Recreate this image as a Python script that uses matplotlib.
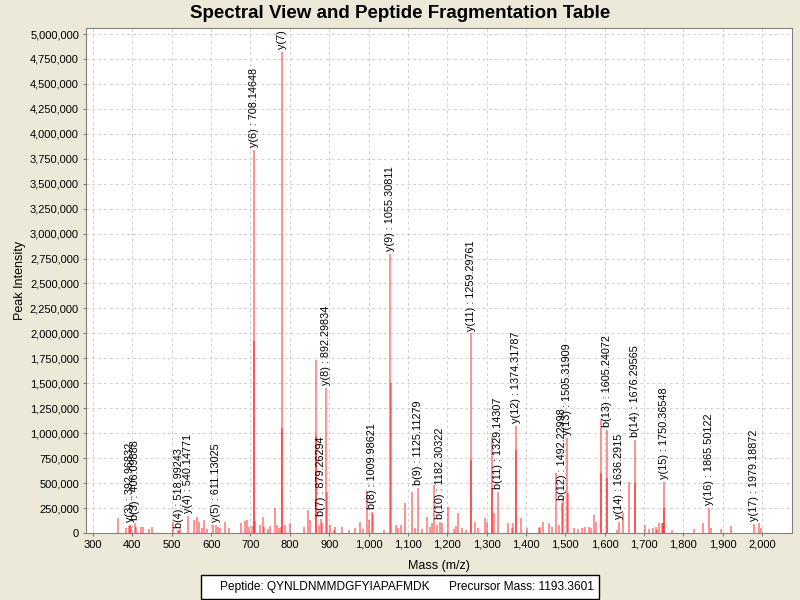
import numpy as np
import matplotlib
matplotlib.use("Agg")
import matplotlib.pyplot as plt
from matplotlib.ticker import FuncFormatter, MultipleLocator

plt.rcParams['font.family'] = ['Liberation Sans', 'DejaVu Sans']

# labelled fragment peaks (mass, intensity)
ion_names = ["y(3)", "b(3)", "b(4)", "y(4)", "y(5)", "y(6)", "y(7)", "b(7)", "y(8)",
             "b(8)", "y(9)", "b(9)", "b(10)", "y(11)", "b(11)", "y(12)", "b(12)",
             "y(13)", "b(13)", "y(14)", "b(14)", "y(15)", "y(16)", "y(17)"]
ion_mass = [392.96832, 406.09888, 518.99243, 540.14771, 611.13025, 708.14648, 779.18519,
            879.26294, 892.29834, 1009.98621, 1055.30811, 1125.11279, 1182.30322,
            1259.29761, 1329.14307, 1374.31787, 1492.22998, 1505.31909, 1605.24072,
            1636.2915, 1676.29565, 1750.36548, 1865.50122, 1979.18872]
ion_int = [80000, 100000, 20000, 170000, 80000, 3840000, 4820000, 140000, 1456000,
           210000, 2800000, 450000, 110000, 2000000, 410000, 1070000, 300000,
           950000, 1030000, 110000, 930000, 510000, 250000, 90000]

# other peaks in the spectrum
peak_mass = [363, 384, 391, 397, 408, 422, 428, 441, 449, 504, 515, 522, 557, 563, 570,
             576, 583, 590, 604, 618, 623, 635, 646, 676, 686, 691, 697, 703, 709.15,
             711, 723, 731, 735, 744, 750, 762, 767, 772, 778, 780.19, 787, 801, 835,
             847, 851, 866, 867, 873, 881, 893.3, 902, 911, 915, 932, 951, 966, 979,
             987, 996, 1000, 1012, 1038, 1056.3, 1070, 1076, 1083, 1093, 1110, 1118,
             1135, 1148, 1156, 1162, 1167, 1173, 1186, 1203, 1216, 1222, 1228, 1237,
             1248, 1260.3, 1271, 1279, 1296, 1300, 1313, 1314, 1320, 1355, 1364, 1368,
             1375.3, 1387, 1402, 1432, 1436, 1443, 1459, 1467, 1476, 1483, 1494,
             1506.3, 1521, 1533, 1542, 1550, 1559, 1566, 1573, 1578, 1590, 1591,
             1606.2, 1631, 1646, 1661, 1677.3, 1703, 1712, 1724, 1730, 1734, 1739,
             1745, 1748, 1751.4, 1772, 1828, 1849, 1871, 1896, 1921, 1993, 1997]
peak_int = [150000, 50000, 70000, 70000, 60000, 60000, 60000, 40000, 60000, 110000,
            30000, 40000, 130000, 160000, 110000, 50000, 130000, 40000, 80000, 60000,
            50000, 110000, 50000, 100000, 120000, 130000, 60000, 70000, 1920000,
            120000, 80000, 160000, 60000, 40000, 70000, 250000, 80000, 50000, 60000,
            1050000, 80000, 100000, 60000, 230000, 130000, 1730000, 970000, 80000,
            100000, 410000, 80000, 30000, 60000, 60000, 30000, 50000, 110000, 40000,
            420000, 130000, 190000, 30000, 1500000, 80000, 50000, 80000, 300000,
            410000, 50000, 40000, 160000, 60000, 100000, 480000, 80000, 100000,
            260000, 40000, 70000, 200000, 50000, 30000, 730000, 110000, 50000,
            150000, 110000, 965000, 450000, 200000, 100000, 50000, 100000, 830000,
            150000, 50000, 50000, 60000, 110000, 100000, 60000, 600000, 80000,
            350000, 400000, 50000, 40000, 50000, 60000, 60000, 50000, 180000,
            110000, 1140000, 600000, 550000, 30000, 200000, 510000, 500000, 80000,
            40000, 50000, 60000, 30000, 100000, 100000, 100000, 250000, 30000,
            40000, 100000, 50000, 40000, 70000, 100000, 50000]

peptide = "QYNLDNMMDGFYIAPAFMDK"
precursor = "1193.3601"

bg = "#ECE9D8"
fig = plt.figure(figsize=(8, 6), dpi=100, facecolor=bg)
ax = fig.add_axes([0.1075, 0.1117, 0.8825, 0.8416])
ax.set_facecolor("white")

all_mass = list(peak_mass) + list(ion_mass)
all_int = list(peak_int) + list(ion_int)
ax.vlines(all_mass, 0, all_int, colors="#ff0000", alpha=0.5, linewidth=1.2)

for name, m, h in zip(ion_names, ion_mass, ion_int):
    ax.annotate(f"{name} : {m}", xy=(m, h), xytext=(0, 2), textcoords="offset points",
                rotation=90, ha="center", va="bottom", fontsize=7.8, clip_on=True,
                annotation_clip=False)

ax.set_xlim(282, 2076)
ax.set_ylim(0, 5060000)
ax.xaxis.set_major_locator(MultipleLocator(100))
ax.yaxis.set_major_locator(MultipleLocator(250000))
ax.xaxis.set_major_formatter(FuncFormatter(lambda v, p: f"{int(v):,}"))
ax.yaxis.set_major_formatter(FuncFormatter(lambda v, p: f"{int(v):,}"))
ax.tick_params(labelsize=8, length=2, color="gray", pad=3)
ax.grid(True, color="#d0d0d0", linestyle=(0, (3, 3)), linewidth=0.7)
ax.set_axisbelow(True)
for s in ax.spines.values():
    s.set_color("gray")

ax.set_xlabel("Mass (m/z)", fontsize=9, labelpad=7)
ax.set_ylabel("Peak Intensity", fontsize=9, labelpad=3)
fig.text(0.5, 0.978, "Spectral View and Peptide Fragmentation Table", ha="center",
         va="center", fontsize=13.5, fontweight="bold")

fig.text(0.5, 0.022, f"    Peptide: {peptide}      Precursor Mass: {precursor}",
         ha="center", va="center", fontsize=8.6,
         bbox=dict(boxstyle="square,pad=0.5", fc="white", ec="black", lw=1))

fig.savefig("out.png", dpi=100, facecolor=bg)
